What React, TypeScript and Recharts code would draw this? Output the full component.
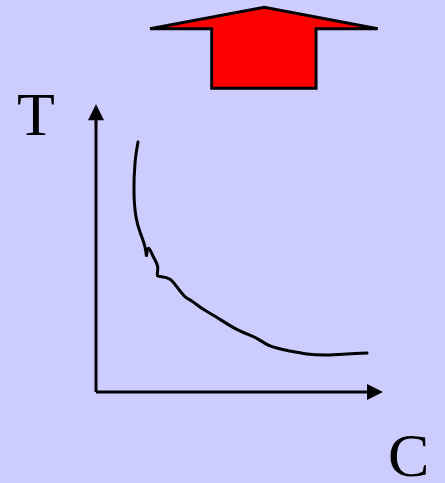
import { ComposedChart, Line, Area, Scatter, XAxis, YAxis } from "recharts";

// Schematic units: both axes run 0..100 from the origin to the arrow tips
const xDomain: [number, number] = [-33.45, 121.6];
const yDomain: [number, number] = [-31.71, 136.59];

// Hand-drawn T vs C curve (C, T pairs in pen order; it hooks back once)
const curveC = [
  14.63, 13.59, 13.24, 13.94, 15.33, 17.07, 17.6, 18.22, 19.97, 21.5, 21.36, 22.89,
  25.78, 28.12, 31.01, 33.34, 37.39, 42.06, 49.02, 55.99, 60.63, 67.0, 73.52, 80.49,
  87.46, 94.43,
];
const curveT = [
  87.11, 79.79, 69.34, 60.98, 55.75, 50.52, 47.56, 50.07, 47.14, 43.66, 40.77, 40.17,
  39.27, 36.69, 33.21, 31.71, 28.82, 26.03, 21.85, 18.71, 16.03, 14.39, 13.24, 12.89,
  13.24, 13.59,
];

// Axes: shaft ends and arrow tips
const axisXC = [0, 94.4];
const axisXT = [0, 0];
const axisYC = [0, 0];
const axisYT = [0, 94.8];
const tipX = { c: 100, t: 0 };
const tipY = { c: 0, t: 100.3 };

// Big red "up" arrow over the chart
const arrowC = [18.82, 40.31, 40.31, 58.64, 76.66, 76.66, 98.15];
const arrowLow = [126.59, 126.59, 105.82, 105.82, 105.82, 126.59, 126.59];
const arrowHigh = [126.59, 130.62, 130.62, 134.04, 130.64, 130.64, 126.59];
const outlineC = [18.82, 58.64, 98.15, 76.66, 76.66, 40.31, 40.31, 18.82];
const outlineT = [126.59, 134.04, 126.59, 126.59, 105.82, 105.82, 126.59, 126.59];

const zip = (cs: number[], ts: number[]) => cs.map((c, i) => ({ c, t: ts[i] }));

const curveData = zip(curveC, curveT);
const arrowData = arrowC.map((c, i) => ({ c, range: [arrowLow[i], arrowHigh[i]] }));
const outlineData = zip(outlineC, outlineT);

const RightHead = (props: any) => {
  const { cx, cy } = props;
  return <polygon points={`${cx},${cy} ${cx - 16},${cy - 8} ${cx - 16},${cy + 8}`} fill="#000" />;
};

const UpHead = (props: any) => {
  const { cx, cy } = props;
  return <polygon points={`${cx},${cy} ${cx - 8},${cy + 16} ${cx + 8},${cy + 16}`} fill="#000" />;
};

const letter = {
  position: "absolute" as const,
  fontFamily: "'Liberation Serif', 'Times New Roman', serif",
  fontSize: 62,
  lineHeight: "48px",
  color: "#000",
};

export default function App() {
  return (
    <div
      style={{
        position: "absolute",
        left: 0,
        top: 0,
        width: 445,
        height: 483,
        background: "#ccccff",
        overflow: "hidden",
      }}
    >
      <ComposedChart
        width={445}
        height={483}
        data={arrowData}
        margin={{ top: 0, right: 0, bottom: 0, left: 0 }}
      >
        <XAxis type="number" dataKey="c" domain={xDomain} hide allowDataOverflow />
        <YAxis type="number" domain={yDomain} hide allowDataOverflow />

        <Area
          type="linear"
          dataKey="range"
          fill="#ff0000"
          fillOpacity={1}
          stroke="none"
          isAnimationActive={false}
          activeDot={false}
        />
        <Line
          data={outlineData}
          dataKey="t"
          type="linear"
          stroke="#000"
          strokeWidth={3}
          strokeLinejoin="miter"
          dot={false}
          activeDot={false}
          isAnimationActive={false}
        />

        <Line
          data={zip(axisXC, axisXT)}
          dataKey="t"
          type="linear"
          stroke="#000"
          strokeWidth={3}
          dot={false}
          activeDot={false}
          isAnimationActive={false}
        />
        <Line
          data={zip(axisYC, axisYT)}
          dataKey="t"
          type="linear"
          stroke="#000"
          strokeWidth={3}
          dot={false}
          activeDot={false}
          isAnimationActive={false}
        />
        <Scatter data={[tipX]} dataKey="t" shape={<RightHead />} isAnimationActive={false} />
        <Scatter data={[tipY]} dataKey="t" shape={<UpHead />} isAnimationActive={false} />

        <Line
          data={curveData}
          dataKey="t"
          type="natural"
          stroke="#000"
          strokeWidth={3}
          strokeLinecap="round"
          dot={false}
          activeDot={false}
          isAnimationActive={false}
        />
      </ComposedChart>

      <div style={{ ...letter, left: 17, top: 90 }}>T</div>
      <div style={{ ...letter, left: 388, top: 431 }}>C</div>
    </div>
  );
}
